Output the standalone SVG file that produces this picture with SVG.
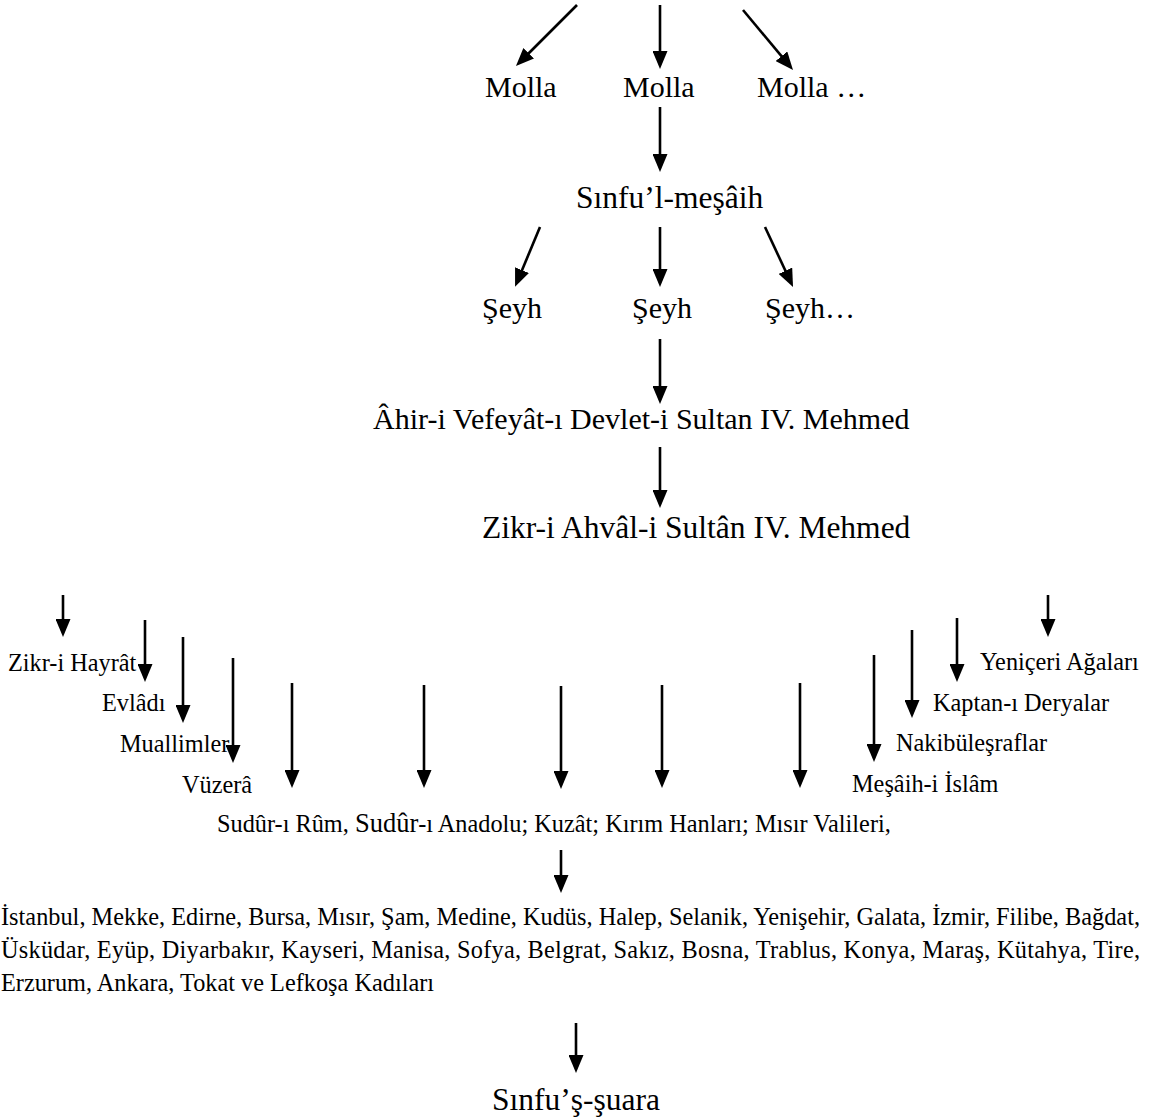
<svg xmlns="http://www.w3.org/2000/svg" width="1156" height="1118" viewBox="0 0 1156 1118">
  <defs>
    <marker id="head" markerUnits="userSpaceOnUse" markerWidth="18" markerHeight="15" refX="13" refY="7.5" orient="auto">
      <path d="M0,0 L18,7.5 L0,15 z" fill="#000"/>
    </marker>
    <style>
      text { font-family: "Liberation Serif", "Times New Roman", serif; fill: #000; }
      .big { font-size: 30px; }
      .big2 { font-size: 31.5px; }
      .small { font-size: 24.3px; }
      .conn line { stroke: #000; stroke-width: 2.6; marker-end: url(#head); }
    </style>
  </defs>
  <rect width="1156" height="1118" fill="#fff"/>

  <!-- connectors -->
  <g id="connectors" class="conn">
    <line x1="577" y1="5" x2="519.5" y2="62.5"/>
    <line x1="660" y1="5" x2="660" y2="64"/>
    <line x1="743" y1="10" x2="789.8" y2="66.2"/>
    <line x1="660" y1="107" x2="660" y2="167"/>
    <line x1="540" y1="227" x2="517" y2="282.2"/>
    <line x1="660" y1="227" x2="660" y2="282"/>
    <line x1="765" y1="227" x2="790.9" y2="282.5"/>
    <line x1="660" y1="339" x2="660" y2="399"/>
    <line x1="660" y1="447" x2="660" y2="503"/>
    <!-- left stair -->
    <line x1="63" y1="595" x2="63" y2="632"/>
    <line x1="145" y1="620" x2="145" y2="677"/>
    <line x1="183" y1="637" x2="183" y2="718"/>
    <line x1="233" y1="658" x2="233" y2="758"/>
    <line x1="292" y1="683" x2="292" y2="783"/>
    <!-- middle row -->
    <line x1="424" y1="685" x2="424" y2="783"/>
    <line x1="561" y1="686" x2="561" y2="784"/>
    <line x1="662" y1="685" x2="662" y2="783"/>
    <line x1="800" y1="683" x2="800" y2="783"/>
    <!-- right stair -->
    <line x1="874" y1="655" x2="874" y2="757"/>
    <line x1="912" y1="630" x2="912" y2="713"/>
    <line x1="957" y1="618" x2="957" y2="677"/>
    <line x1="1048" y1="595" x2="1048" y2="632"/>
    <!-- lower chain -->
    <line x1="561" y1="850" x2="561" y2="888"/>
    <line x1="576" y1="1023" x2="576" y2="1068"/>
  </g>

  <g id="molla-1"><text class="big" x="485" y="97">Molla</text></g>
  <g id="molla-2"><text class="big" x="623" y="97">Molla</text></g>
  <g id="molla-3"><text class="big" x="757" y="97">Molla …</text></g>

  <g id="sinfu-mesaih"><text class="big2" x="576" y="208">Sınfu’l-meşâih</text></g>

  <g id="seyh-1"><text class="big" x="482" y="318">Şeyh</text></g>
  <g id="seyh-2"><text class="big" x="632" y="318">Şeyh</text></g>
  <g id="seyh-3"><text class="big" x="765" y="318">Şeyh…</text></g>

  <g id="ahir-vefeyat"><text class="big" x="373" y="429">Âhir-i Vefeyât-ı Devlet-i Sultan IV. Mehmed</text></g>
  <g id="zikr-ahval"><text class="big2" x="482" y="538" font-size="32">Zikr-i Ahvâl-i Sultân IV. Mehmed</text></g>

  <g id="zikr-hayrat"><text class="small" x="8" y="671">Zikr-i Hayrât</text></g>
  <g id="evladi"><text class="small" x="102" y="711">Evlâdı</text></g>
  <g id="muallimler"><text class="small" x="120" y="752">Muallimler</text></g>
  <g id="vuzera"><text class="small" x="182" y="793">Vüzerâ</text></g>

  <g id="yeniceri"><text class="small" x="980" y="670">Yeniçeri Ağaları</text></g>
  <g id="kaptan"><text class="small" x="933" y="711">Kaptan-ı Deryalar</text></g>
  <g id="nakibulesraflar"><text class="small" x="896" y="751">Nakibüleşraflar</text></g>
  <g id="mesaih-islam"><text class="small" x="852" y="792">Meşâih-i İslâm</text></g>

  <g id="sudur"><text class="small" x="217" y="832">Sudûr-ı Rûm, <tspan font-size="26.5">Sudûr</tspan>-ı Anadolu; Kuzât; Kırım Hanları; Mısır Valileri,</text></g>

  <g id="kadilar">
    <text class="small" x="1" y="925" textLength="1139" lengthAdjust="spacing">İstanbul, Mekke, Edirne, Bursa, Mısır, Şam, Medine, Kudüs, Halep, Selanik, Yenişehir, Galata, İzmir, Filibe, Bağdat,</text>
    <text class="small" x="1" y="958" textLength="1139" lengthAdjust="spacing">Üsküdar, Eyüp, Diyarbakır, Kayseri, Manisa, Sofya, Belgrat, Sakız, Bosna, Trablus, Konya, Maraş, Kütahya, Tire,</text>
    <text class="small" x="1" y="991">Erzurum, Ankara, Tokat ve Lefkoşa Kadıları</text>
  </g>

  <g id="sinfu-suara"><text class="big2" x="492" y="1110">Sınfu’ş-şuara</text></g>
</svg>
